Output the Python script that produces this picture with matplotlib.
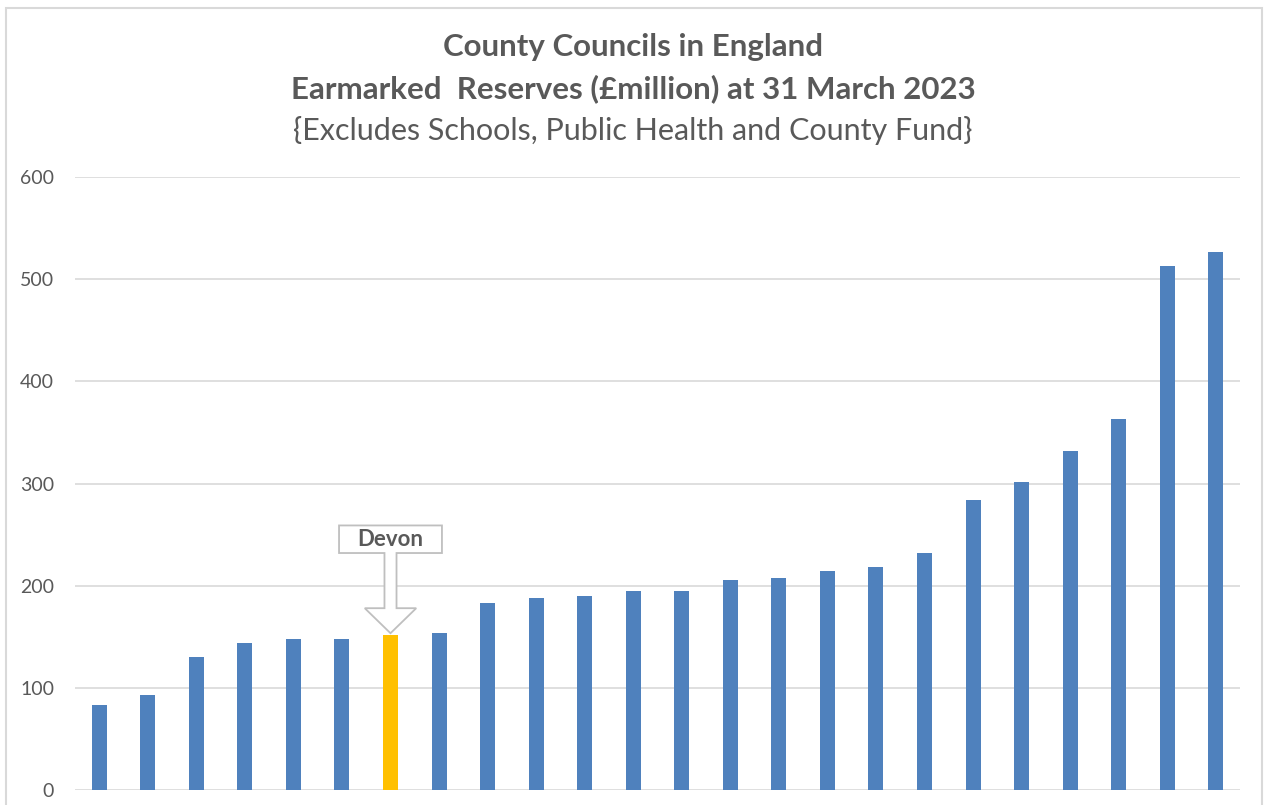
import matplotlib
matplotlib.use('Agg')
import matplotlib.pyplot as plt
from matplotlib.patches import Polygon, Rectangle

# earmarked reserves (GBP million) at 31 March 2023, sorted ascending
reserves = [83, 93, 130, 144, 148, 148, 152, 154, 183, 188, 190, 195,
            195, 206, 208, 214, 218, 232, 284, 302, 332, 363, 513, 527]
highlight = 6  # Devon
highlight_label = 'Devon'
yticks = [0, 100, 200, 300, 400, 500, 600]

BLUE = '#4F81BD'
GOLD = '#FFC000'
TEXT = '#595959'
GRID = '#D9D9D9'


def main():
    plt.rcParams['font.family'] = ['Lato', 'DejaVu Sans']
    fig = plt.figure(figsize=(12.66, 8.05), dpi=100)
    ax = fig.add_axes([0.0592, 0.0186, 0.9203, 0.7614])

    colors = [GOLD if i == highlight else BLUE for i in range(len(reserves))]
    ax.bar(range(len(reserves)), reserves, width=0.31, color=colors, zorder=2)

    ax.set_xlim(-0.5, len(reserves) - 0.5)
    ax.set_ylim(0, 600)
    ax.set_yticks(yticks)
    ax.set_xticks([])
    ax.grid(axis='y', color=GRID, linewidth=1.2, zorder=0)
    for s in ax.spines.values():
        s.set_visible(False)
    ax.tick_params(axis='y', length=0, pad=15, labelsize=14, labelcolor=TEXT)

    # down-arrow callout above the highlighted bar
    x = highlight
    tip = reserves[highlight] + 1.5
    pts = [(x - 1.06, 259), (x + 1.06, 259), (x + 1.06, 232), (x + 0.124, 232),
           (x + 0.124, 178), (x + 0.53, 178), (x, tip), (x - 0.53, 178),
           (x - 0.124, 178), (x - 0.124, 232), (x - 1.06, 232)]
    ax.add_patch(Polygon(pts, closed=True, facecolor='white', edgecolor='#BFBFBF',
                         linewidth=1.3, zorder=3))
    ax.text(x, 245.5, highlight_label, ha='center', va='center', fontsize=16,
            fontweight='bold', color=TEXT, zorder=4)

    fig.text(0.5, 0.942, 'County Councils in England', ha='center', va='center',
             fontsize=22.5, fontweight='bold', color=TEXT)
    fig.text(0.5, 0.890, 'Earmarked  Reserves (£million) at 31 March 2023', ha='center',
             va='center', fontsize=22.5, fontweight='bold', color=TEXT)
    fig.text(0.5, 0.838, '{Excludes Schools, Public Health and County Fund}', ha='center',
             va='center', fontsize=22, color=TEXT)

    fig.patches.append(Rectangle((0.005, -0.01), 0.992, 1.0, transform=fig.transFigure,
                                 fill=False, edgecolor=GRID, linewidth=1.5))

    fig.savefig('out.png', dpi=100)
    plt.close(fig)


if __name__ == '__main__':
    main()
